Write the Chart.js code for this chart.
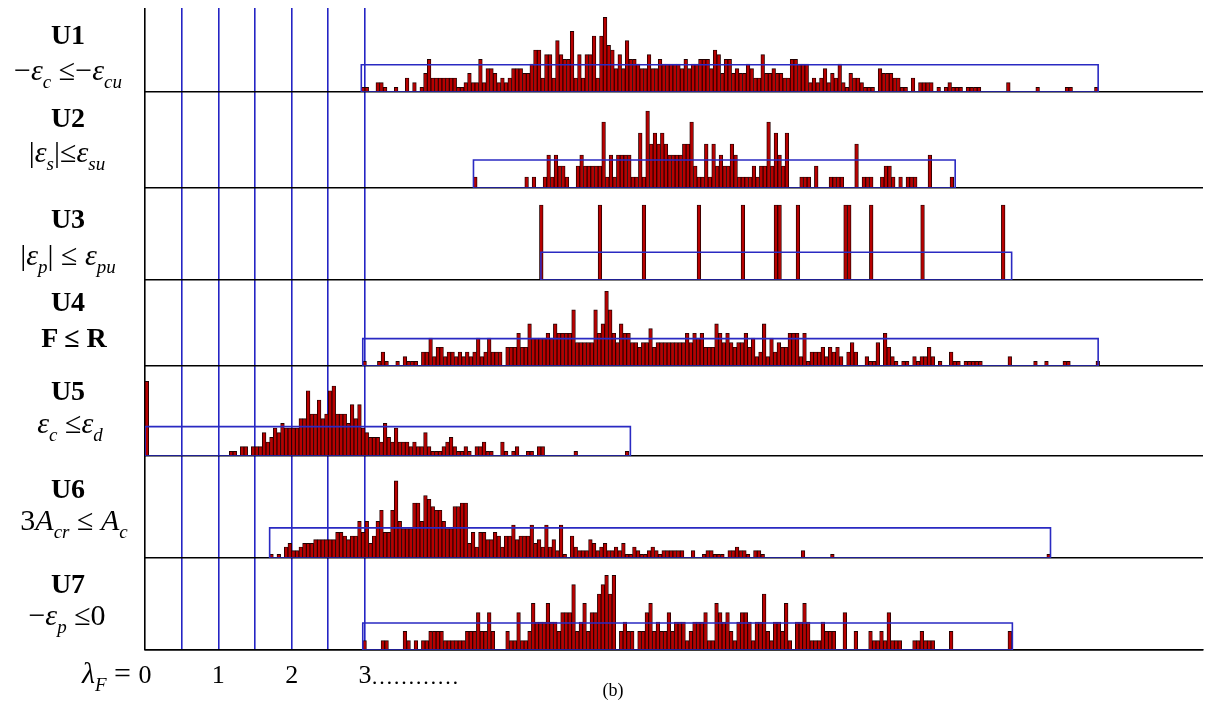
<!DOCTYPE html>
<html>
<head>
<meta charset="utf-8">
<script src="https://cdn.jsdelivr.net/npm/chart.js@4"></script>
<style>
  body { margin: 0; background: #fff; }
  #wrap { position: relative; width: 1210px; height: 703px; font-family: "Liberation Serif", "DejaVu Serif", serif; color: #000; }
  #c { position: absolute; left: 0; top: 0; }
  .t, .f, .b { position: absolute; transform: translate(-50%, -50%); white-space: nowrap; line-height: 1; }
  .t { font-size: 28px; font-weight: bold; }
  .f { font-size: 30px; }
  .f sub { font-size: 19px; font-style: italic; vertical-align: -8px; }
  .b { font-size: 22px; }
</style>
</head>
<body>
<div id="wrap">
  <canvas id="c" width="1210" height="703"></canvas>

  <div class="t" style="left:68px;top:35px">U1</div>
  <div class="f" style="left:68px;top:73px">−<i>ε</i><sub>c</sub> ≤−<i>ε</i><sub>cu</sub></div>
  <div class="t" style="left:68px;top:118px">U2</div>
  <div class="f" style="left:67px;top:155px">|<i>ε</i><sub>s</sub>|≤<i>ε</i><sub>su</sub></div>
  <div class="t" style="left:68px;top:219px">U3</div>
  <div class="f" style="left:68px;top:258px">|<i>ε</i><sub>p</sub>| ≤ <i>ε</i><sub>pu</sub></div>
  <div class="t" style="left:68px;top:302px">U4</div>
  <div class="t" style="left:74px;top:338px">F ≤ R</div>
  <div class="t" style="left:68px;top:391px">U5</div>
  <div class="f" style="left:70px;top:426px"><i>ε</i><sub>c</sub> ≤<i>ε</i><sub>d</sub></div>
  <div class="t" style="left:68px;top:489px">U6</div>
  <div class="f" style="left:74px;top:523px">3<i>A</i><sub>cr</sub> ≤ <i>A</i><sub>c</sub></div>
  <div class="t" style="left:68px;top:584px">U7</div>
  <div class="f" style="left:67px;top:618px">−<i>ε</i><sub>p</sub> ≤0</div>

  <div class="f" style="left:131px;top:676px;transform:translate(-100%,-50%);font-size:30px"><i>λ</i><sub style="font-size:19px">F</sub> =</div>
  <div class="b" style="left:371px;top:677px;transform:translate(0,-50%)">…………</div>
  <div class="b" style="left:613px;top:690px;font-size:18px">(b)</div>
</div>

<script>
// histogram bins (count per 0.05 wide bin of lambda_F), one list per panel
const binWidth = 0.05;

const u1Start = 2.95;
const u1Counts = [
  1,1,0,0,2,2,1,0,0,1,
  0,0,3,0,2,0,1,4,7,3,
  3,3,3,3,3,3,1,1,2,4,
  2,2,7,2,5,5,4,2,3,2,
  3,5,5,5,4,4,6,9,9,3,
  8,8,3,11,8,7,7,13,3,8,
  3,8,8,12,3,12,16,10,9,5,
  8,5,11,7,7,6,5,5,8,5,
  5,7,6,6,6,6,6,5,7,5,
  6,6,7,7,7,5,9,8,4,7,
  7,4,5,4,4,6,5,3,3,8,
  4,4,5,4,4,3,3,7,7,6,
  6,6,2,3,2,3,5,2,4,3,
  6,2,1,4,3,3,2,1,1,1,
  0,5,4,4,4,3,3,1,1,0,
  3,0,2,2,2,2,0,1,0,1,
  2,1,1,1,0,1,1,1,1,0,
  0,0,0,0,0,0,2,0,0,0,
  0,0,0,0,1,0,0,0,0,0,
  0,0,1,1,0,0,0,0,0,0,
  1
];

const u2Start = 4.48;
const u2Counts = [
  1,0,0,0,0,0,0,0,0,0,
  0,0,0,0,1,0,1,0,0,1,
  3,1,3,2,2,1,0,0,2,3,
  2,2,2,2,2,6,1,3,1,3,
  3,3,3,1,1,5,1,7,4,5,
  4,5,4,3,3,3,3,4,4,6,
  2,1,1,4,1,4,2,3,2,2,
  4,3,1,1,1,1,2,1,2,2,
  6,2,5,3,2,5,0,0,0,1,
  1,1,0,2,0,0,0,1,1,1,
  1,0,0,0,4,0,1,1,1,0,
  0,1,2,2,1,0,1,0,1,1,
  1,0,0,0,3,0,0,0,0,0,
  1
];

const u3Start = 5.38;
const u3Counts = [
  1,0,0,0,0,0,0,0,0,0,
  0,0,0,0,0,0,1,0,0,0,
  0,0,0,0,0,0,0,0,1,0,
  0,0,0,0,0,0,0,0,0,0,
  0,0,0,1,0,0,0,0,0,0,
  0,0,0,0,0,1,0,0,0,0,
  0,0,0,0,1,1,0,0,0,0,
  1,0,0,0,0,0,0,0,0,0,
  0,0,0,1,1,0,0,0,0,0,
  1,0,0,0,0,0,0,0,0,0,
  0,0,0,0,1,0,0,0,0,0,
  0,0,0,0,0,0,0,0,0,0,
  0,0,0,0,0,0,1
];

const u4Start = 2.97;
const u4Counts = [
  1,0,0,0,1,3,1,0,0,1,
  0,2,1,1,1,0,3,3,6,2,
  4,4,2,3,3,2,3,2,3,2,
  3,6,2,3,6,3,3,3,0,4,
  4,4,7,4,4,9,6,6,6,6,
  7,6,9,7,7,7,7,12,5,5,
  5,5,5,12,7,9,16,12,7,5,
  9,7,7,5,5,4,5,5,8,4,
  5,5,5,5,5,5,5,5,7,5,
  7,6,7,4,4,4,9,7,5,7,
  5,4,5,5,7,4,6,2,3,9,
  2,6,3,5,4,4,7,7,7,2,
  7,1,3,3,3,4,2,4,3,4,
  2,0,3,5,3,0,0,2,1,1,
  5,0,7,4,2,1,0,1,1,0,
  2,1,2,2,4,2,0,1,0,0,
  3,1,1,0,1,1,1,1,1,0,
  0,0,0,0,0,0,2,0,0,0,
  0,0,0,1,0,0,1,0,0,0,
  0,1,1,0,0,0,0,0,0,0,
  1
];

const u5Start = 0;
const u5Counts = [
  16,0,0,0,0,0,0,0,0,0,
  0,0,0,0,0,0,0,0,0,0,
  0,0,0,1,1,0,2,2,0,2,
  2,2,5,3,4,6,5,7,6,6,
  6,6,8,8,14,9,9,12,8,9,
  14,15,9,9,9,7,11,8,11,6,
  5,4,4,4,3,7,4,3,6,3,
  3,3,2,3,2,2,5,2,1,1,
  1,2,3,4,2,1,1,2,1,0,
  2,2,3,1,1,0,0,3,1,0,
  1,2,0,0,1,1,0,2,2,0,
  0,0,0,0,0,0,0,1,0,0,
  0,0,0,0,0,0,0,0,0,0,
  0,1
];

const u6Start = 1.70;
const u6Counts = [
  1,0,1,0,3,4,2,2,3,4,
  4,4,5,5,5,5,5,5,7,7,
  6,5,6,6,10,7,10,4,6,10,
  13,7,7,13,21,10,8,8,8,15,
  15,10,17,16,14,13,13,10,8,8,
  14,14,15,15,4,7,3,7,7,5,
  5,7,6,3,6,6,9,5,6,6,
  6,9,4,5,3,9,3,5,2,9,
  1,0,6,3,2,2,2,5,4,2,
  3,4,2,2,3,2,4,1,1,3,
  2,1,1,2,3,2,1,2,2,2,
  2,2,2,0,0,2,0,0,1,2,
  2,1,1,1,0,2,2,3,2,2,
  1,0,2,2,1,0,0,0,0,0,
  0,0,0,0,0,2,0,0,0,0,
  0,0,0,1,0,0,0,0,0,0,
  0,0,0,0,0,0,0,0,0,0,
  0,0,0,0,0,0,0,0,0,0,
  0,0,0,0,0,0,0,0,0,0,
  0,0,0,0,0,0,0,0,0,0,
  0,0,0,0,0,0,0,0,0,0,
  0,0,1
];

const u7Start = 2.97;
const u7Counts = [
  1,0,0,0,0,1,1,0,0,0,
  0,2,1,0,1,0,1,1,2,2,
  2,2,1,1,1,1,1,1,2,2,
  2,4,2,2,4,2,0,0,0,2,
  1,1,4,1,1,2,5,3,3,3,
  5,3,3,2,4,4,4,7,2,3,
  5,2,4,4,6,7,8,6,8,0,
  2,3,2,2,0,2,2,4,5,2,
  3,2,2,4,2,3,3,3,1,2,
  3,3,3,4,1,1,5,4,3,4,
  2,1,3,4,4,3,1,3,3,6,
  2,1,3,3,2,5,1,0,3,3,
  5,3,1,1,1,3,2,2,2,0,
  0,4,0,0,2,0,0,0,2,1,
  1,2,1,4,1,1,1,0,0,0,
  1,1,2,1,1,1,0,0,0,0,
  2,0,0,0,0,0,0,0,0,0,
  0,0,0,0,0,0,2
];

// blue boxes: lambda range and level, per panel
const boxFrom  = [2.95, 4.48, 5.40, 2.97, 0.00, 1.70, 2.97];
const boxTo    = [13.0, 11.05, 11.82, 13.0, 6.62, 12.35, 11.83];
const boxLevel = [5.85, 2.55, 0.37, 5.85, 6.3, 8.2, 2.9];

const xTicks = [0, 0.5, 1, 1.5, 2, 2.5, 3];

const panelIds = ["u1", "u2", "u3", "u4", "u5", "u6", "u7"];
const starts = [u1Start, u2Start, u3Start, u4Start, u5Start, u6Start, u7Start];
const counts = [u1Counts, u2Counts, u3Counts, u4Counts, u5Counts, u6Counts, u7Counts];

// panel layout (pixel heights) and y ranges
const panelHeights = [84, 96, 92, 86, 90, 102, 92];
const panelMax = [18.0, 8.73, 1.227, 18.4, 19.3, 27.8, 9.86];

const datasets = [];
panelIds.forEach((id, k) => {
  datasets.push({
    type: "line",
    yAxisID: id,
    data: [
      { x: boxFrom[k], y: 0 }, { x: boxFrom[k], y: boxLevel[k] },
      { x: boxTo[k], y: boxLevel[k] }, { x: boxTo[k], y: 0 }, { x: boxFrom[k], y: 0 }
    ],
    borderColor: "#2a2ac2",
    borderWidth: 1.6,
    pointRadius: 0,
    fill: false,
    tension: 0,
    order: 0
  });
  datasets.push({
    type: "bar",
    yAxisID: id,
    data: counts[k].map((c, i) => ({ x: starts[k] + (i + 0.5) * binWidth, y: c })).filter(p => p.y > 0),
    backgroundColor: "#b80000",
    borderColor: "#220000",
    borderWidth: 0.9,
    barThickness: 3.667,
    grouped: false,
    order: 1
  });
});

const scales = {
  x: {
    type: "linear",
    position: "bottom",
    min: 0,
    max: 14.43,
    offset: false,
    z: 1,
    afterBuildTicks: a => { a.ticks = xTicks.map(v => ({ value: v })); },
    afterFit: a => { a.height = 53; },
    grid: {
      offset: false,
      drawTicks: false,
      lineWidth: 1.6,
      color: c => (c.tick && c.tick.value === 0) ? "#000" : "#2424c4"
    },
    border: { display: true, color: "#000", width: 1.5 },
    ticks: {
      autoSkip: false,
      maxRotation: 0,
      padding: 11,
      color: "#000",
      font: { family: "Liberation Serif", size: 26 },
      callback: v => Number.isInteger(v) ? String(v) : ""
    }
  }
};

panelIds.forEach((id, k) => {
  scales[id] = {
    type: "linear",
    position: "left",
    stack: "panels",
    stackWeight: panelHeights[k],
    weight: 7 - k,
    min: 0,
    max: panelMax[k],
    offset: false,
    afterBuildTicks: a => { a.ticks = [{ value: 0 }]; },
    grid: { color: "#000", lineWidth: 1.5, drawTicks: false },
    border: { display: false },
    ticks: { display: false }
  };
});

new Chart(document.getElementById("c").getContext("2d"), {
  type: "bar",
  data: { datasets },
  options: {
    responsive: false,
    animation: false,
    events: [],
    layout: { padding: { left: 145, right: 7, top: 8, bottom: 0 } },
    plugins: { legend: { display: false }, tooltip: { enabled: false } },
    scales
  }
});
</script>
</body>
</html>
